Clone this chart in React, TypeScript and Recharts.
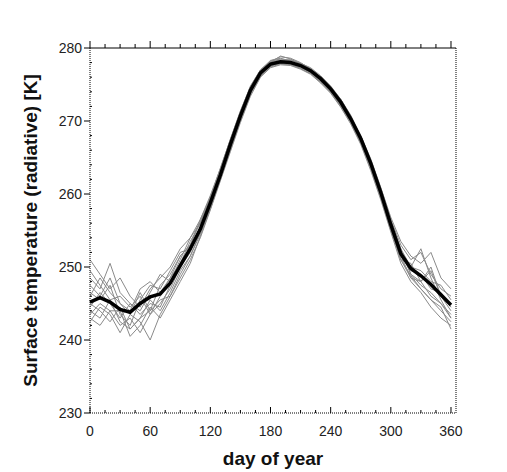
import * as React from "react";
import { LineChart, Line, XAxis, YAxis } from "recharts";

// day of year, sampled every 10 days
const days = [0, 10, 20, 30, 40, 50, 60, 70, 80, 90, 100, 110, 120, 130, 140, 150, 160, 170, 180, 190, 200, 210, 220, 230, 240, 250, 260, 270, 280, 290, 300, 310, 320, 330, 340, 350, 360];

// ensemble mean (thick black)
const mean = [245.2, 245.8, 245.2, 244.2, 243.8, 245.0, 245.9, 246.3, 247.8, 250.2, 252.5, 255.2, 258.8, 262.6, 266.8, 270.7, 274.2, 276.6, 277.8, 278.1, 278.0, 277.6, 276.9, 275.8, 274.4, 272.6, 270.3, 267.6, 264.2, 260.2, 255.8, 251.8, 249.8, 248.8, 247.6, 246.2, 244.8];

// individual members (thin grey)
const g1 = [247.5, 246.0, 248.5, 245.0, 243.5, 246.5, 244.0, 247.5, 249.0, 251.5, 253.0, 256.5, 259.5, 263.5, 267.5, 271.3, 274.8, 277.0, 278.3, 278.6, 278.2, 277.5, 276.6, 275.5, 274.0, 272.2, 270.0, 267.0, 263.5, 259.5, 255.0, 251.0, 250.5, 248.0, 249.5, 246.0, 244.0];
const g2 = [244.0, 243.0, 245.5, 242.5, 241.5, 243.0, 245.5, 244.0, 246.5, 249.5, 251.5, 254.5, 258.0, 262.0, 266.0, 270.2, 273.8, 276.2, 277.5, 278.0, 277.8, 277.2, 276.5, 275.3, 274.0, 272.0, 269.8, 267.0, 263.6, 259.5, 255.5, 252.5, 249.0, 247.5, 246.5, 245.0, 243.0];
const g3 = [251.0, 249.0, 247.0, 248.5, 246.0, 244.5, 247.0, 248.5, 250.0, 252.5, 254.0, 256.0, 259.5, 263.2, 267.3, 271.0, 274.5, 276.8, 278.0, 278.3, 278.4, 277.9, 277.2, 276.0, 274.6, 273.0, 270.6, 268.0, 264.6, 260.8, 256.5, 253.0, 251.0, 252.0, 249.0, 247.0, 246.0];
const g4 = [243.5, 245.0, 244.0, 242.0, 243.0, 241.0, 243.5, 245.0, 247.0, 250.0, 252.0, 255.5, 258.5, 262.3, 266.5, 270.4, 274.0, 276.4, 277.6, 277.9, 277.7, 277.3, 276.7, 275.6, 274.2, 272.4, 270.0, 267.3, 263.8, 259.8, 255.2, 251.5, 248.5, 247.0, 245.5, 244.0, 242.5];
const g5 = [246.0, 248.5, 246.5, 245.0, 244.0, 247.0, 248.0, 246.5, 248.5, 250.5, 253.5, 256.0, 259.2, 263.0, 267.0, 270.8, 274.3, 276.7, 278.0, 278.9, 278.5, 277.8, 277.0, 275.9, 274.6, 272.8, 270.6, 267.8, 264.5, 260.5, 256.2, 252.5, 250.0, 249.5, 248.0, 247.5, 245.5];
const g6 = [245.0, 244.0, 242.5, 244.5, 241.5, 243.0, 244.0, 245.5, 246.0, 249.0, 251.5, 254.8, 258.3, 262.2, 266.2, 270.2, 273.9, 276.3, 277.6, 277.9, 277.8, 277.4, 276.7, 275.6, 274.1, 272.3, 270.0, 267.3, 263.9, 260.0, 255.5, 251.0, 248.5, 248.0, 246.0, 245.0, 243.5];
const g7 = [248.5, 247.0, 250.5, 246.5, 245.0, 244.0, 246.5, 249.0, 248.0, 251.0, 254.0, 256.5, 259.8, 263.5, 267.5, 271.4, 274.7, 277.0, 278.2, 278.5, 278.3, 277.9, 277.3, 276.2, 274.8, 273.0, 270.8, 268.0, 264.8, 260.9, 256.8, 253.5, 251.5, 250.5, 252.0, 248.5, 247.0];
const g8 = [242.5, 244.5, 243.5, 241.0, 243.5, 242.5, 240.0, 243.5, 246.0, 248.5, 251.0, 254.0, 257.8, 261.8, 265.8, 269.8, 273.4, 276.0, 277.3, 277.7, 277.6, 277.1, 276.4, 275.2, 273.8, 271.9, 269.6, 266.8, 263.2, 259.2, 254.8, 250.5, 248.0, 246.5, 244.5, 243.0, 242.0];
const g9 = [246.5, 245.5, 247.5, 243.5, 242.0, 245.5, 247.5, 247.0, 249.5, 252.0, 252.5, 255.5, 259.0, 263.0, 267.1, 270.9, 274.4, 276.8, 278.1, 278.4, 278.1, 277.6, 276.9, 275.8, 274.4, 272.6, 270.4, 267.6, 264.2, 260.3, 256.0, 252.0, 249.5, 249.0, 247.0, 246.5, 244.5];
const g10 = [244.5, 246.5, 245.0, 243.0, 245.0, 243.5, 245.0, 244.5, 247.5, 250.5, 252.8, 255.0, 258.6, 262.5, 266.6, 270.5, 274.1, 276.5, 277.7, 278.0, 277.9, 277.5, 276.8, 275.7, 274.3, 272.5, 270.2, 267.5, 264.0, 260.0, 255.8, 252.0, 250.0, 252.5, 248.5, 245.5, 243.0];
const g11 = [249.5, 247.5, 245.5, 246.0, 244.5, 246.0, 243.5, 246.0, 248.5, 251.5, 253.0, 256.2, 259.5, 263.3, 267.4, 271.1, 274.6, 276.9, 278.2, 278.8, 278.6, 278.0, 277.1, 276.0, 274.7, 272.9, 270.7, 267.9, 264.4, 260.6, 256.3, 252.2, 249.0, 248.0, 250.0, 246.0, 244.5];
const g12 = [243.0, 242.0, 244.0, 244.0, 240.5, 242.0, 244.5, 243.0, 245.5, 248.0, 250.5, 254.2, 258.0, 262.0, 266.1, 270.0, 273.6, 276.1, 277.4, 277.8, 277.7, 277.2, 276.5, 275.4, 273.9, 272.1, 269.9, 267.1, 263.6, 259.6, 255.3, 251.0, 248.8, 247.0, 245.5, 244.5, 241.5];

const members = [g1, g2, g3, g4, g5, g6, g7, g8, g9, g10, g11, g12];

// axis ticks
const xTicks = [0, 15, 30, 45, 60, 75, 90, 105, 120, 135, 150, 165, 180, 195, 210, 225, 240, 255, 270, 285, 300, 315, 330, 345, 360];
const xLabels = [0, 60, 120, 180, 240, 300, 360];
const yTicks = [230, 232, 234, 236, 238, 240, 242, 244, 246, 248, 250, 252, 254, 256, 258, 260, 262, 264, 266, 268, 270, 272, 274, 276, 278, 280];
const yLabels = [230, 240, 250, 260, 270, 280];

const data = days.map((d, i) => {
  const row: any = { day: d, mean: mean[i] };
  members.forEach((m, j) => (row["g" + (j + 1)] = m[i]));
  return row;
});

const FONT = "'Liberation Sans', Arial, sans-serif";

const BottomTick = (props: any) => {
  const { x, y, payload } = props;
  const major = xLabels.includes(payload.value);
  return (
    <g>
      <line x1={x} x2={x} y1={y} y2={y - (major ? 6 : 3)} stroke="#000" strokeWidth={1} />
      {major && (
        <text x={x} y={y + 23} textAnchor="middle" fontSize={14} fontFamily={FONT} fill="#222">
          {payload.value}
        </text>
      )}
    </g>
  );
};

const TopTick = (props: any) => {
  const { x, y, payload } = props;
  const major = xLabels.includes(payload.value);
  return <line x1={x} x2={x} y1={y} y2={y - (major ? 7 : 4)} stroke="#000" strokeWidth={1} />;
};

const LeftTick = (props: any) => {
  const { x, y, payload } = props;
  const major = yLabels.includes(payload.value);
  return (
    <g>
      {major ? (
        <line x1={x} x2={x - 6} y1={y} y2={y} stroke="#000" strokeWidth={1} />
      ) : (
        <line x1={x} x2={x + 2} y1={y} y2={y} stroke="#000" strokeWidth={1} />
      )}
      {major && (
        <text x={x - 8} y={y + 5} textAnchor="end" fontSize={14} fontFamily={FONT} fill="#222">
          {payload.value}
        </text>
      )}
    </g>
  );
};

const RightTick = (props: any) => {
  const { x, y, payload } = props;
  const major = yLabels.includes(payload.value);
  return <line x1={x} x2={x + (major ? 5 : 2)} y1={y} y2={y} stroke="#000" strokeWidth={1} />;
};

export default function App() {
  return (
    <div style={{ position: "absolute", left: 0, top: 0, background: "#fff" }}>
      <LineChart width={507} height={472} data={data} margin={{ top: 38, right: 31, bottom: 29, left: 40 }}>
        <XAxis
          xAxisId="bottom"
          dataKey="day"
          type="number"
          domain={[0, 365]}
          ticks={xTicks}
          interval={0}
          height={30}
          tickSize={0}
          tickMargin={0}
          tickLine={false}
          tick={<BottomTick />}
          axisLine={{ stroke: "#000", strokeDasharray: "1 1" }}
          label={{ value: "day of year", position: "insideBottom", offset: -22, fontSize: 19, fontWeight: "bold", fontFamily: FONT, fill: "#111" }}
        />
        <XAxis
          xAxisId="top"
          orientation="top"
          dataKey="day"
          type="number"
          domain={[0, 365]}
          ticks={xTicks}
          interval={0}
          height={10}
          tickSize={0}
          tickMargin={0}
          tickLine={false}
          tick={<TopTick />}
          axisLine={{ stroke: "#000" }}
        />
        <YAxis
          yAxisId="left"
          type="number"
          domain={[230, 280]}
          ticks={yTicks}
          interval={0}
          width={50}
          tickSize={0}
          tickMargin={0}
          tickLine={false}
          tick={<LeftTick />}
          axisLine={{ stroke: "#000", strokeDasharray: "1 1" }}
          label={{ value: "Surface temperature (radiative) [K]", angle: -90, position: "insideLeft", offset: -10, style: { textAnchor: "middle" }, fontSize: 19, fontWeight: "bold", fontFamily: FONT, fill: "#111" }}
        />
        <YAxis
          yAxisId="right"
          orientation="right"
          type="number"
          domain={[230, 280]}
          ticks={yTicks}
          interval={0}
          width={20}
          tickSize={0}
          tickMargin={0}
          tickLine={false}
          tick={<RightTick />}
          axisLine={{ stroke: "#000", strokeDasharray: "1 1" }}
        />
        {members.map((_, j) => (
          <Line
            key={j}
            xAxisId="bottom"
            yAxisId="left"
            dataKey={"g" + (j + 1)}
            type="linear"
            stroke="#8a8a8a"
            strokeWidth={1}
            dot={false}
            isAnimationActive={false}
          />
        ))}
        <Line
          xAxisId="bottom"
          yAxisId="left"
          dataKey="mean"
          type="linear"
          stroke="#000"
          strokeWidth={3.5}
          dot={false}
          isAnimationActive={false}
        />
      </LineChart>
    </div>
  );
}
